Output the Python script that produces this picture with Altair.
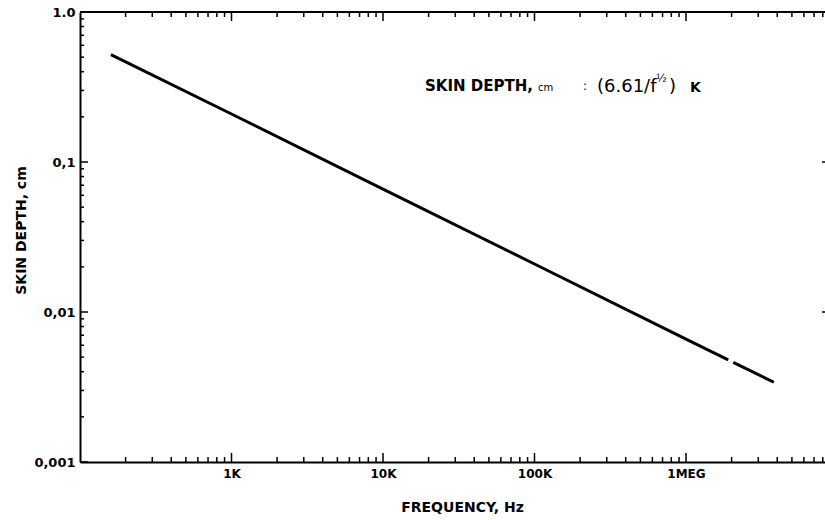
import altair as alt
import pandas as pd

# ---- data ----
freq_a = [160, 1000, 10000, 100000, 1000000, 1900000]
depth_a = [0.52, 0.209, 0.066, 0.0209, 0.0066, 0.0048]
freq_b = [2050000, 3800000]
depth_b = [0.00462, 0.0034]

x_major = [1000, 10000, 100000, 1000000]
x_labels = ["1K", "10K", "100K", "1MEG"]
x_minor = [200, 300, 400, 500, 600, 700, 800, 900,
           2000, 3000, 4000, 5000, 6000, 7000, 8000, 9000,
           20000, 30000, 40000, 50000, 60000, 70000, 80000, 90000,
           200000, 300000, 400000, 500000, 600000, 700000, 800000, 900000,
           2000000, 3000000, 4000000, 5000000, 6000000, 7000000, 8000000]
y_major = [0.001, 0.01, 0.1, 1.0]
y_labels = ["0,001", "0,01", "0,1", "1.0"]
y_minor = [0.002, 0.003, 0.004, 0.005, 0.006, 0.007, 0.008, 0.009,
           0.02, 0.03, 0.04, 0.05, 0.06, 0.07, 0.08, 0.09,
           0.2, 0.3, 0.4, 0.5, 0.6, 0.7, 0.8, 0.9]
y_right = [0.01, 0.1]

W, H = 745, 450
FONT = "DejaVu Sans"

XS = alt.Scale(type="log", domain=[100, 8.27e6])
YS = alt.Scale(type="log", domain=[0.001, 1.0])


def label_expr(vals, labels):
    parts = []
    for v, l in zip(vals, labels):
        parts.append(f"abs(datum.value - {v}) < {v * 1e-6} ? '{l}' : ")
    return "".join(parts) + "''"


AX_X = alt.Axis(
    values=x_major, labelExpr=label_expr(x_major, x_labels), ticks=False, grid=False,
    domain=True, domainColor="black", domainWidth=2,
    labelFont=FONT, labelFontWeight="bold", labelFontSize=12, labelColor="black",
    labelPadding=6, labelFlush=False, labelOverlap=False, labelBound=False,
    title="FREQUENCY, Hz", titleFont=FONT, titleFontWeight="bold", titleFontSize=14,
    titleColor="black", titleX=382, titleY=45, titleAlign="center", titleBaseline="middle")

AX_Y = alt.Axis(
    values=y_major, labelExpr=label_expr(y_major, y_labels), ticks=False, grid=False,
    domain=True, domainColor="black", domainWidth=2,
    labelFont=FONT, labelFontWeight="bold", labelFontSize=13, labelColor="black",
    labelPadding=5, labelFlush=False, labelOverlap=False, labelBound=False,
    title="SKIN DEPTH, cm", titleFont=FONT, titleFontWeight="bold", titleFontSize=14,
    titleColor="black", titleX=-59, titleY=218, titleAngle=270,
    titleAlign="center", titleBaseline="middle")

df_line = pd.DataFrame({
    "f": freq_a + freq_b,
    "d": depth_a + depth_b,
    "seg": ["a"] * len(freq_a) + ["b"] * len(freq_b),
})

line = alt.Chart(df_line).mark_line(color="black", strokeWidth=3, strokeCap="butt").encode(
    x=alt.X("f:Q", scale=XS, axis=AX_X, title="FREQUENCY, Hz"),
    y=alt.Y("d:Q", scale=YS, axis=AX_Y, title="SKIN DEPTH, cm"),
    detail="seg:N",
)


def xticks(vals, y0, y1, width=1.5):
    return alt.Chart(pd.DataFrame({"f": vals})).mark_rule(color="black", strokeWidth=width).encode(
        x=alt.X("f:Q", scale=XS, axis=AX_X, title="FREQUENCY, Hz"),
        y=alt.value(y0), y2=alt.value(y1))


def yticks(vals, x0, x1, width=1.5):
    return alt.Chart(pd.DataFrame({"d": vals})).mark_rule(color="black", strokeWidth=width).encode(
        y=alt.Y("d:Q", scale=YS, axis=AX_Y, title="SKIN DEPTH, cm"),
        x=alt.value(x0), x2=alt.value(x1))


top_border = alt.Chart(pd.DataFrame({"v": [0]})).mark_rule(color="black", strokeWidth=2).encode(
    x=alt.value(0), x2=alt.value(W), y=alt.value(0))


def txt(text, x, y, size, weight="normal", align="left"):
    return alt.Chart(pd.DataFrame({"t": [text]})).mark_text(
        font=FONT, fontSize=size, fontWeight=weight, color="black", align=align,
        baseline="alphabetic").encode(text="t:N", x=alt.value(x), y=alt.value(y))


annotation = [
    txt("SKIN DEPTH,", 345, 79, 15, "bold"),
    txt("cm", 458, 79, 10),
    txt(":", 503, 78, 12),
    txt("(6.61/f", 517, 80, 18),
    txt("½", 576, 70, 11),
    txt(")", 589, 80, 18),
    txt("K", 610, 80, 14, "bold"),
]

layers = [
    line,
    top_border,
    xticks(x_major, H, H - 9),
    xticks(x_minor, H, H - 5),
    xticks(x_major, 0, 9),
    xticks(x_minor, 0, 5),
    yticks(y_major, 0, 8),
    yticks(y_minor, 0, 4),
    yticks(y_right, W - 3, W),
] + annotation

chart = alt.layer(*layers).properties(
    width=W, height=H,
    autosize=alt.AutoSizeParams(type="none"),
    padding={"left": 80, "top": 12, "right": 0, "bottom": 58},
    background="white",
).configure_view(stroke=None)

chart.save("out.html", embed_options={"renderer": "svg", "actions": False})
